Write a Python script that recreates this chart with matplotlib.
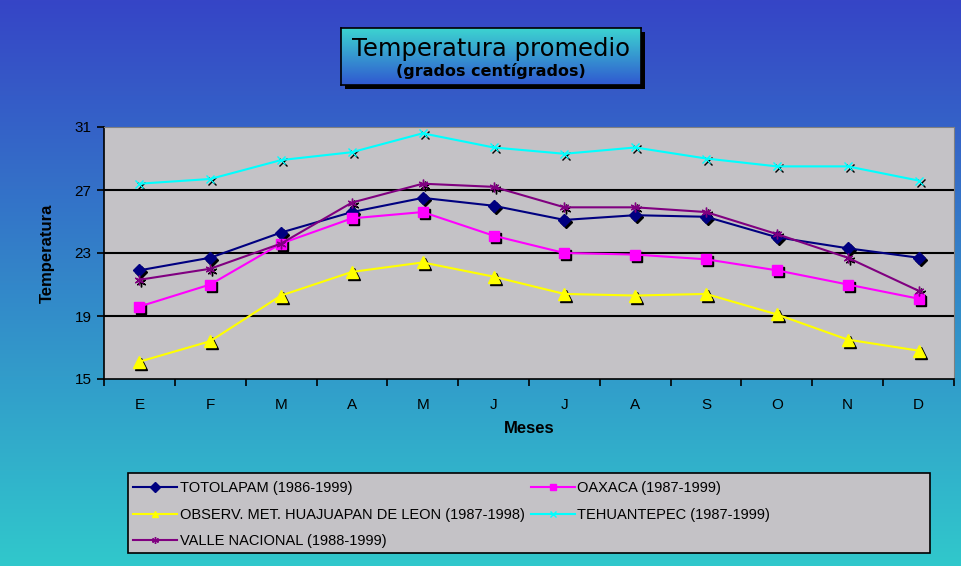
import numpy as np
import matplotlib
matplotlib.use("Agg")
import matplotlib.pyplot as plt
from matplotlib.patches import Rectangle
from matplotlib.transforms import offset_copy

plt.rcParams['font.family'] = ['Liberation Sans', 'DejaVu Sans']

# data
meses = ['E', 'F', 'M', 'A', 'M', 'J', 'J', 'A', 'S', 'O', 'N', 'D']
totolapam = [21.9, 22.7, 24.3, 25.6, 26.5, 26.0, 25.1, 25.4, 25.3, 24.0, 23.3, 22.7]
oaxaca = [19.6, 21.0, 23.6, 25.2, 25.6, 24.1, 23.0, 22.9, 22.6, 21.9, 21.0, 20.1]
huajuapan = [16.1, 17.4, 20.3, 21.8, 22.4, 21.5, 20.4, 20.3, 20.4, 19.1, 17.5, 16.8]
tehuantepec = [27.4, 27.7, 28.9, 29.4, 30.6, 29.7, 29.3, 29.7, 29.0, 28.5, 28.5, 27.6]
valle_nacional = [21.3, 22.0, 23.6, 26.2, 27.4, 27.2, 25.9, 25.9, 25.6, 24.2, 22.7, 20.6]

series = [
    ('TOTOLAPAM (1986-1999)', totolapam, '#000080', 'D', 6),
    ('OAXACA (1987-1999)', oaxaca, '#ff00ff', 's', 7),
    ('OBSERV. MET. HUAJUAPAN DE LEON (1987-1998)', huajuapan, '#ffff00', '^', 8),
    ('TEHUANTEPEC (1987-1999)', tehuantepec, '#00ffff', 'x', 6),
    ('VALLE NACIONAL (1988-1999)', valle_nacional, '#800080', (6, 2, 0), 7),
]

W, H = 961, 566
fig = plt.figure(figsize=(W / 100, H / 100), dpi=100)

# background gradient
bg = fig.add_axes([0, 0, 1, 1], zorder=-10)
grad = np.linspace(0, 1, 256).reshape(-1, 1)
top = np.array([0x36, 0x45, 0xc6]) / 255
bot = np.array([0x30, 0xc8, 0xcc]) / 255
img = top + (bot - top) * grad[:, :, None]
bg.imshow(img, aspect='auto', extent=[0, 1, 0, 1])
bg.set_axis_off()

def fx(px):
    return px / W

def fy(py):
    return 1 - py / H

# title box with shadow
bx0, by0, bx1, by1 = 341, 28, 641, 85
fig.patches.append(Rectangle((fx(bx0 + 4), fy(by1 + 4)), fx(bx1 - bx0), (by1 - by0) / H,
                             transform=fig.transFigure, facecolor='black', edgecolor='none', zorder=1))
tb = fig.add_axes([fx(bx0), fy(by1), fx(bx1 - bx0), (by1 - by0) / H], zorder=2)
ttop = np.array([0x3c, 0xd4, 0xd0]) / 255
tbot = np.array([0x30, 0x58, 0xd0]) / 255
timg = ttop + (tbot - ttop) * grad[:, :, None]
tb.imshow(timg, aspect='auto', extent=[0, 1, 0, 1])
tb.set_xticks([])
tb.set_yticks([])
for s in tb.spines.values():
    s.set_color('black')
    s.set_linewidth(1.2)
tb.text(0.5, 0.63, 'Temperatura promedio', ha='center', va='center', fontsize=17.5,
        family=['DejaVu Sans'], transform=tb.transAxes)
tb.text(0.5, 0.24, '(grados centígrados)', ha='center', va='center', fontsize=11.5,
        fontweight='bold', family=['DejaVu Sans'], transform=tb.transAxes)

# main plot
ax = fig.add_axes([fx(104), fy(379), fx(850), 252 / H], zorder=3)
ax.set_facecolor('#c4c2c6')
x = np.arange(len(meses))
handles = {}
for name, vals, color, marker, ms in series:
    shadow = offset_copy(ax.transData, fig=fig, x=2, y=-2, units='dots')
    ax.plot(x, vals, linestyle='none', marker=marker, markersize=ms, color='black',
            markeredgecolor='black', transform=shadow, zorder=3)
    line, = ax.plot(x, vals, color=color, marker=marker, markersize=ms, linewidth=1.5,
                    markeredgecolor=color, label=name, zorder=4)
    handles[name] = line

ax.set_xlim(-0.5, len(meses) - 0.5)
ax.set_ylim(15, 31)
ax.set_yticks([15, 19, 23, 27, 31])
ax.set_xticks(x)
ax.set_xticklabels(meses)
ax.set_xticks(np.arange(-0.5, len(meses), 1), minor=True)
ax.tick_params(axis='x', which='major', length=0, pad=14, labelsize=11)
ax.tick_params(axis='x', which='minor', length=5, direction='out', width=1.2)
ax.tick_params(axis='y', length=5, direction='out', width=1.2, labelsize=11, pad=4)
for yv in [19, 23, 27]:
    ax.axhline(yv, color='black', linewidth=1.5, zorder=1)
for side in ['top', 'right']:
    ax.spines[side].set_color('#808080')
for side in ['left', 'bottom']:
    ax.spines[side].set_color('black')
    ax.spines[side].set_linewidth(1.2)
ax.set_xlabel('Meses', fontsize=12, fontweight='bold', labelpad=6)
ax.set_ylabel('Temperatura', fontsize=12, fontweight='bold', labelpad=14)

# legend box
lx0, ly0, lx1, ly1 = 128, 473, 930, 553
fig.patches.append(Rectangle((fx(lx0), fy(ly1)), fx(lx1 - lx0), (ly1 - ly0) / H,
                             transform=fig.transFigure, facecolor='#c4c2c6',
                             edgecolor='black', linewidth=1.2, zorder=4))

# legend, filled row by row
order = [0, 2, 4, 1, 3]
leg_handles = [handles[series[i][0]] for i in order]
leg_labels = [series[i][0] for i in order]
leg = fig.legend(leg_handles, leg_labels, ncol=2, loc='upper left',
                 bbox_to_anchor=(fx(129), fy(477)), frameon=False, fontsize=10.5,
                 handlelength=3.0, handletextpad=0.2, borderaxespad=0, borderpad=0.3,
                 labelspacing=0.85, columnspacing=0.4)
leg.set_zorder(5)
for h in leg.legend_handles:
    h.set_markersize(5)

fig.savefig('out.png', dpi=100)
